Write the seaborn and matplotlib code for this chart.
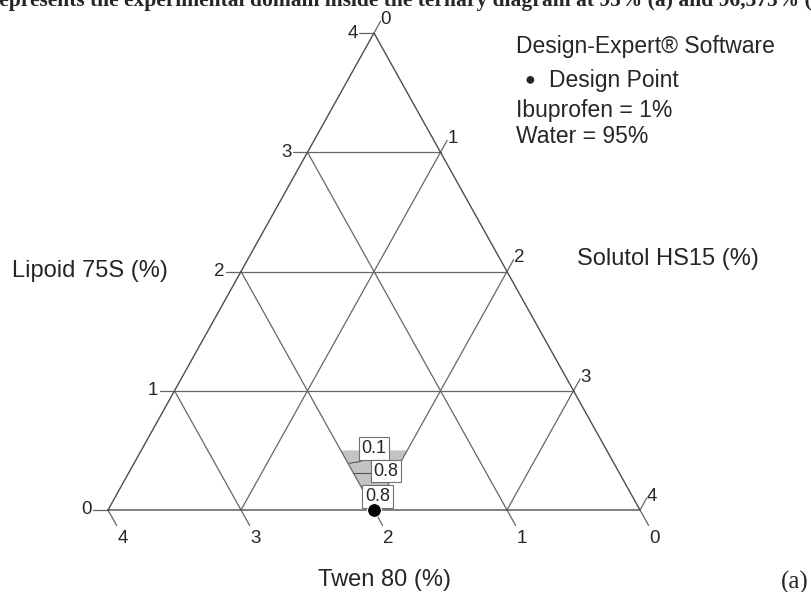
"""Ternary mixture plot: Lipoid 75S / Solutol HS15 / Twen 80 (Design-Expert style)."""

import numpy as np
import matplotlib
matplotlib.use("Agg")
import matplotlib.pyplot as plt
import seaborn as sns

# --- data (ternary components, % of the 4% left after ibuprofen + water) ---
TOTAL = 4
TICKS = [0, 1, 2, 3, 4]

# design points: (Lipoid, Solutol); Twen = TOTAL - Lipoid - Solutol
design_lipoid = [0.0]
design_solutol = [2.0]

# feasible region (shaded): Lipoid <= 0.5, Solutol <= 2, Twen <= 2
region_lipoid = [0.5, 0.5, 0.0]
region_solutol = [1.5, 2.0, 2.0]

# contour lines inside region
contour1_lipoid = [0.392, 0.403, 0.442, 0.47]
contour1_solutol = [1.618, 1.68, 1.774, 1.85]
contour2_lipoid = [0.313, 0.313]
contour2_solutol = [1.687, 1.9]

# contour labels
label_lipoid = [0.514, 0.327, 0.112]
label_solutol = [1.743, 1.927, 1.97]
label_text = ["0.1", "0.8", "0.8"]


def cart(L, S):
    L = np.asarray(L, float)
    S = np.asarray(S, float)
    return S + L / 2, L


sns.set_style("white")
plt.rcParams["font.family"] = ["Liberation Sans", "DejaVu Sans"]

W, H = 811, 592
fig = plt.figure(figsize=(W / 100, H / 100), dpi=100)
ax = fig.add_axes([0, 0, 1, 1])
# pixel layout: Twen vertex at (108,510), Solutol vertex at (640,510), Lipoid vertex at (374,33)
sx, sy = 133.0, 119.25
ax.set_xlim(-108 / sx, (W - 108) / sx)
ax.set_ylim((510 - H) / sy, 510 / sy)
ax.axis("off")

grid_kw = dict(color="#666666", lw=0.9, zorder=2)

# shaded region
rx, ry = cart(region_lipoid, region_solutol)
ax.fill(rx, ry, color="#c3c3c3", lw=0, zorder=1)

# triangle edges
tx, ty = cart([0, 4, 0, 0], [0, 0, 4, 0])
ax.plot(tx, ty, color="#4d4d4d", lw=1.0, zorder=3)

# grid lines
for k in TICKS[1:-1]:
    x, y = cart([k, k], [0, TOTAL - k])
    ax.plot(x, y, **grid_kw)
    x, y = cart([0, TOTAL - k], [k, k])
    ax.plot(x, y, **grid_kw)
    x, y = cart([0, TOTAL - k], [TOTAL - k, 0])
    ax.plot(x, y, **grid_kw)

# ticks + labels
tick_fs = 13.5
for k in TICKS:
    # Lipoid (left edge, horizontal ticks)
    x0, y0 = cart(k, 0)
    ax.plot([x0, x0 - 0.11], [y0, y0], **grid_kw)
    ax.text(x0 - 0.16, y0, str(k), ha="center", va="center", fontsize=tick_fs)
    # Solutol (right edge, ticks up-right)
    x0, y0 = cart(TOTAL - k, k)
    ax.plot([x0, x0 + 0.05], [y0, y0 + 0.1], **grid_kw)
    ax.text(x0 + 0.09, y0 + 0.115, str(k), ha="center", va="center", fontsize=tick_fs)
    # Twen (bottom edge, ticks down-right)
    x0, y0 = cart(0, TOTAL - k)
    ax.plot([x0, x0 + 0.065], [y0, y0 - 0.13], **grid_kw)
    ax.text(x0 + 0.11, y0 - 0.24, str(k), ha="center", va="center", fontsize=tick_fs)

# contour lines
for Ls, Ss in [(contour1_lipoid, contour1_solutol), (contour2_lipoid, contour2_solutol)]:
    x, y = cart(Ls, Ss)
    ax.plot(x, y, color="#555555", lw=0.8, zorder=2)

# contour labels
for L, S, t in zip(label_lipoid, label_solutol, label_text):
    x, y = cart(L, S)
    ax.text(x, y, t, ha="center", va="center", fontsize=13, zorder=5,
            bbox=dict(boxstyle="square,pad=0.15", fc="white", ec="#707070", lw=0.8))

# design point
dx, dy = cart(design_lipoid, design_solutol)
sns.scatterplot(x=dx, y=dy, ax=ax, color="black", s=100, zorder=6, legend=False)

# axis titles
title_fs = 17
fig.text(12 / W, 1 - 271 / H, "Lipoid 75S (%)", ha="left", va="center", fontsize=title_fs)
fig.text(577 / W, 1 - 259 / H, "Solutol HS15 (%)", ha="left", va="center", fontsize=title_fs)
fig.text(385 / W, 1 - 580 / H, "Twen 80 (%)", ha="center", va="center", fontsize=title_fs)
fig.text(795 / W, 1 - 582 / H, "(a)", ha="center", va="center", fontsize=18,
         family="Liberation Serif")

# legend block
leg_fs = 16.5
fig.text(516 / W, 1 - 47 / H, "Design-Expert\u00ae Software", ha="left", va="center", fontsize=leg_fs)
fig.text(530 / W, 1 - 80 / H, "\u25cf", ha="center", va="center", fontsize=13)
fig.text(549 / W, 1 - 80 / H, "Design Point", ha="left", va="center", fontsize=leg_fs)
fig.text(516 / W, 1 - 111 / H, "Ibuprofen = 1%", ha="left", va="center", fontsize=leg_fs)
fig.text(516 / W, 1 - 137 / H, "Water = 95%", ha="left", va="center", fontsize=leg_fs)

# clipped caption line at the very top
fig.text(-10 / W, 1 - 6 / H,
         "represents the experimental domain inside the ternary diagram at 95% (a) and 96,375% (b)",
         ha="left", va="baseline", fontsize=15.5, fontweight="bold", family="Liberation Serif")

fig.savefig("out.png", dpi=100)
plt.close()
